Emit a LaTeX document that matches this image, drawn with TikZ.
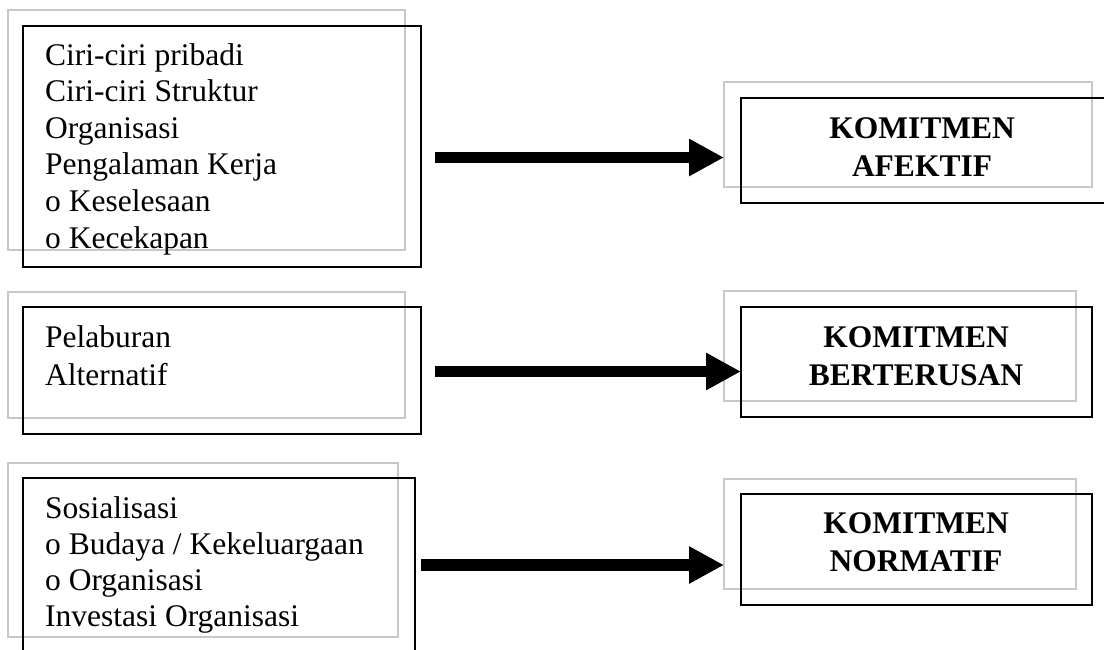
\documentclass[tikz,border=0pt]{standalone}
\usepackage{fontspec}
\setmainfont{Liberation Serif}
\usetikzlibrary{arrows.meta}

\tikzset{
  frame/.style={draw=black!22, line width=1.4pt, inner sep=0pt, outer sep=0pt,
                anchor=north west, minimum width=#1},
  box/.style={draw=black, line width=1.4pt, inner sep=0pt, outer sep=0pt,
              anchor=north west, minimum width=#1},
  factor/.style={inner sep=0pt, anchor=base west,
                 font=\fontsize{31.5}{36.6}\selectfont},
  outcome/.style={inner sep=0pt, anchor=base,
                  font=\fontsize{31.5}{38.5}\selectfont\bfseries},
  bigarrow/.style={line width=11.5pt,
                   -{Triangle[length=35pt,width=35pt]}},
}

\begin{document}
\begin{tikzpicture}[x=1pt, y=-1pt]
  \useasboundingbox (0,0) rectangle (1104,649);
  \clip (0,0) rectangle (1104,649);

  % ---- left column: grey outline behind, black outline in front ----
  \node[frame=397pt, minimum height=240pt] (lg1) at (8,10) {};
  \node[box=398pt, minimum height=241pt]   (lb1) at (23,26) {};
  \node[factor] (lt1) at (45,65) {\begin{tabular}[t]{@{}l@{}}
      Ciri-ciri pribadi\\ Ciri-ciri Struktur\\ Organisasi\\
      Pengalaman Kerja\\ o Keselesaan\\ o Kecekapan\end{tabular}};

  \node[frame=397pt, minimum height=126pt] (lg2) at (8,292) {};
  \node[box=398pt, minimum height=127pt]   (lb2) at (23,307) {};
  \node[factor, font=\fontsize{31.5}{38.3}\selectfont] (lt2) at (45,347)
    {\begin{tabular}[t]{@{}l@{}}Pelaburan\\ Alternatif\end{tabular}};

  \node[frame=390pt, minimum height=174pt] (lg3) at (8,463) {};
  \node[box=392pt, minimum height=200pt]   (lb3) at (23,478) {};
  \node[factor, font=\fontsize{31.5}{36.3}\selectfont] (lt3) at (45,518)
    {\begin{tabular}[t]{@{}l@{}}Sosialisasi\\ o Budaya / Kekeluargaan\\
      o Organisasi\\ Investasi Organisasi\end{tabular}};

  % ---- right column: the three kinds of commitment ----
  \node[frame=368pt, minimum height=105pt] (rg1) at (724,82) {};
  \node[box=380pt, minimum height=105pt]   (rb1) at (741,98) {};
  \node[outcome] (rt1) at (922,138)
    {\begin{tabular}[t]{@{}c@{}}KOMITMEN\\ AFEKTIF\end{tabular}};

  \node[frame=352pt, minimum height=110pt] (rg2) at (724,291) {};
  \node[box=351pt, minimum height=110pt]   (rb2) at (741,307) {};
  \node[outcome] (rt2) at (916,347)
    {\begin{tabular}[t]{@{}c@{}}KOMITMEN\\ BERTERUSAN\end{tabular}};

  \node[frame=352pt, minimum height=110pt] (rg3) at (724,479) {};
  \node[box=351pt, minimum height=111pt]   (rb3) at (741,494) {};
  \node[outcome] (rt3) at (916,533)
    {\begin{tabular}[t]{@{}c@{}}KOMITMEN\\ NORMATIF\end{tabular}};

  % ---- arrows from each group of factors to its commitment ----
  \draw[bigarrow, shorten <=14pt] (lb1.east |- 0,157.5) -- (rg1.west |- 0,157.5);
  \draw[bigarrow, shorten <=14pt] (lb2.east |- 0,371.5) -- (rb2.west |- 0,371.5);
  \draw[bigarrow, shorten <=6pt]  (lb3.east |- 0,565)   -- (rg3.west |- 0,565);
\end{tikzpicture}
\end{document}
